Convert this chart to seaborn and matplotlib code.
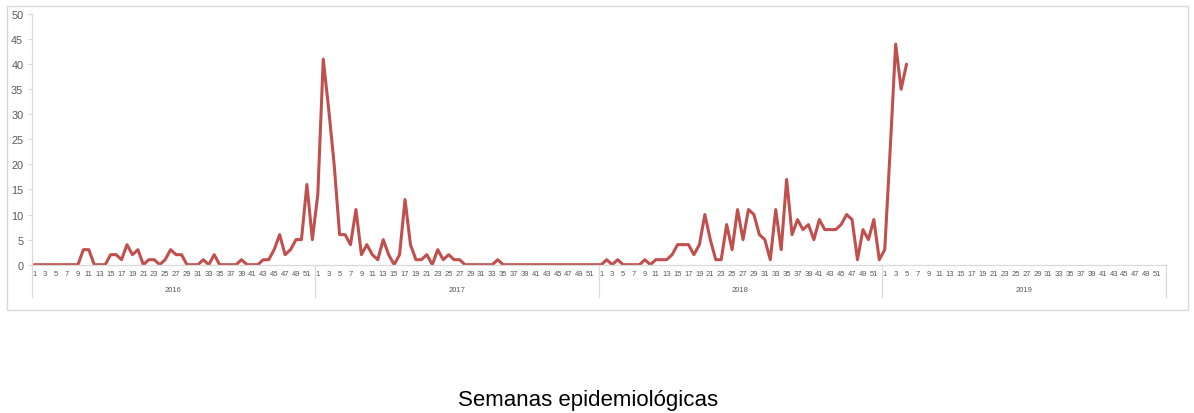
import numpy as np
import pandas as pd
import matplotlib
matplotlib.use("Agg")
import matplotlib.pyplot as plt
import matplotlib.transforms as mtransforms
from matplotlib.lines import Line2D
from matplotlib.patches import Rectangle
import seaborn as sns

# ---- data ----
years = ["2016", "2017", "2018", "2019"]
weeks_per_year = 52
cases_2016 = [0, 0, 0, 0, 0, 0, 0, 0, 0, 3, 3, 0, 0, 0, 2, 2, 1, 4, 2, 3, 0, 1, 1, 0, 1, 3,
              2, 2, 0, 0, 0, 1, 0, 2, 0, 0, 0, 0, 1, 0, 0, 0, 1, 1, 3, 6, 2, 3, 5, 5, 16, 5]
cases_2017 = [14, 41, 31, 20, 6, 6, 4, 11, 2, 4, 2, 1, 5, 2, 0, 2, 13, 4, 1, 1, 2, 0, 3, 1, 2, 1,
              1, 0, 0, 0, 0, 0, 0, 1, 0, 0, 0, 0, 0, 0, 0, 0, 0, 0, 0, 0, 0, 0, 0, 0, 0, 0]
cases_2018 = [0, 1, 0, 1, 0, 0, 0, 0, 1, 0, 1, 1, 1, 2, 4, 4, 4, 2, 4, 10, 5, 1, 1, 8, 3, 11,
              5, 11, 10, 6, 5, 1, 11, 3, 17, 6, 9, 7, 8, 5, 9, 7, 7, 7, 8, 10, 9, 1, 7, 5, 9, 1]
cases_2019 = [3, 23, 44, 35, 40]
week_tick_labels = [str(w) for w in range(1, 52, 2)]
y_ticks = [0, 5, 10, 15, 20, 25, 30, 35, 40, 45, 50]
x_title = "Semanas epidemiológicas"

series = [cases_2016, cases_2017, cases_2018, cases_2019]
rows = []
for yi, (yr, vals) in enumerate(zip(years, series)):
    for wi, v in enumerate(vals):
        rows.append({"pos": yi * weeks_per_year + wi, "year": yr, "week": wi + 1, "cases": v})
df = pd.DataFrame(rows)

# ---- style ----
sns.set_style("white")
plt.rcParams["font.family"] = ["Liberation Sans", "DejaVu Sans"]

W, H = 1194, 414
fig = plt.figure(figsize=(W / 100, H / 100), dpi=100)
ax_left, ax_right = 31.6 / W, 1165.5 / W
ax_top, ax_bottom = 1 - 15 / H, 1 - 265.7 / H
ax = fig.add_axes([ax_left, ax_bottom, ax_right - ax_left, ax_top - ax_bottom])

line_color = "#C0504D"
sns.lineplot(data=df, x="pos", y="cases", ax=ax, color=line_color, linewidth=2.2,
             estimator=None, legend=False)

ntot = weeks_per_year * len(years)
ax.set_xlim(-0.5, ntot - 0.5)
ax.set_ylim(0, 50)
ax.set_yticks(y_ticks)
ax.set_yticklabels([str(t) for t in y_ticks], fontsize=7.8, color="#595959")
ax.tick_params(axis="y", length=3, width=0.8, color="#D9D9D9", pad=3, left=True)

# week tick labels
xt, xl = [], []
for yi in range(len(years)):
    for lab in week_tick_labels:
        xt.append(yi * weeks_per_year + int(lab) - 1)
        xl.append(lab)
ax.set_xticks(xt)
ax.set_xticklabels(xl, fontsize=5.5, color="#595959")
ax.tick_params(axis="x", length=0, pad=4)
ax.set_xlabel("")
ax.set_ylabel("")

for s in ["top", "right"]:
    ax.spines[s].set_visible(False)
for s in ["left", "bottom"]:
    ax.spines[s].set_color("#D9D9D9")
    ax.spines[s].set_linewidth(0.9)

# multi-level category separators and year labels
trans = mtransforms.blended_transform_factory(ax.transData, ax.transAxes)
axes_h_px = 265.7 - 15
drop = 32 / axes_h_px
for k in range(len(years) + 1):
    xb = k * weeks_per_year - 0.5
    ax.add_line(Line2D([xb, xb], [0, -drop], transform=trans, color="#D9D9D9",
                       linewidth=0.9, clip_on=False))
for yi, yr in enumerate(years):
    ax.text(yi * weeks_per_year + (weeks_per_year - 1) / 2, -(291 - 265.7) / axes_h_px, yr,
            transform=trans, ha="center", va="center", fontsize=5.5, color="#595959")

# chart border
fig.add_artist(Rectangle((7 / W, 1 - 311 / H), 1181 / W, 304 / H, transform=fig.transFigure,
                         fill=False, edgecolor="#D9D9D9", linewidth=1.0))

fig.text(588 / W, 1 - 401 / H, x_title, ha="center", va="center", fontsize=16, color="black")

fig.savefig("out.png", dpi=100)
